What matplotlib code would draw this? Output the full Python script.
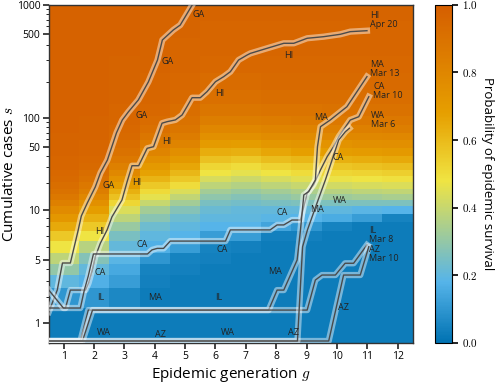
import matplotlib
matplotlib.use("Agg")
import matplotlib.pyplot as plt
import matplotlib.patheffects as pe
import numpy as np
from matplotlib.colors import LinearSegmentedColormap
from matplotlib.ticker import FixedLocator, NullFormatter

plt.rcParams["font.family"] = ["Open Sans", "DejaVu Sans"]
plt.rcParams["mathtext.fontset"] = "cm"

# ---- heatmap data: survival probability per generation column ----
GENERATIONS = [1, 2, 3, 4, 5, 6, 7, 8, 9, 10, 11, 12]
G_EDGES = [0.5, 1.5, 2.5, 3.5, 4.5, 5.5, 6.5, 7.5, 8.5, 9.5, 10.5, 11.5, 12.5]
S_EDGES = [-0.1, 1.5, 2.5, 3.5, 4.5, 5.5, 6.5, 7.5, 8.5, 9.5, 11, 13, 15, 17.3,
           20.3, 24, 28, 33, 40, 48, 58, 70, 84, 103, 130, 170, 235, 325, 460,
           670, 1000]

P_G1 = [0.03, 0.10, 0.20, 0.30, 0.38, 0.48, 0.56, 0.65, 0.72, 0.78, 0.83, 0.87,
        0.90, 0.92, 0.94, 0.95, 0.96, 0.96, 0.97, 0.97, 0.97, 0.98, 0.98, 0.98,
        0.98, 0.98, 0.98, 0.98, 0.98, 0.98]
P_G2 = [0.03, 0.10, 0.17, 0.21, 0.27, 0.37, 0.48, 0.56, 0.63, 0.69, 0.75, 0.80,
        0.84, 0.87, 0.90, 0.92, 0.94, 0.95, 0.96, 0.96, 0.97, 0.97, 0.97, 0.98,
        0.98, 0.98, 0.98, 0.98, 0.98, 0.98]
P_G3 = [0.03, 0.06, 0.12, 0.15, 0.19, 0.21, 0.25, 0.31, 0.38, 0.44, 0.52, 0.58,
        0.63, 0.69, 0.74, 0.79, 0.83, 0.87, 0.90, 0.92, 0.94, 0.95, 0.96, 0.96,
        0.97, 0.97, 0.97, 0.98, 0.98, 0.98]
P_G4 = [0.03, 0.03, 0.04, 0.05, 0.10, 0.17, 0.20, 0.23, 0.28, 0.33, 0.40, 0.46,
        0.51, 0.56, 0.62, 0.67, 0.71, 0.76, 0.81, 0.85, 0.88, 0.91, 0.93, 0.95,
        0.96, 0.96, 0.97, 0.97, 0.97, 0.97]
P_G5 = [0.03, 0.03, 0.03, 0.04, 0.05, 0.12, 0.18, 0.20, 0.23, 0.27, 0.33, 0.39,
        0.44, 0.50, 0.56, 0.61, 0.66, 0.71, 0.76, 0.81, 0.85, 0.88, 0.90, 0.92,
        0.94, 0.95, 0.96, 0.96, 0.97, 0.97]
P_G6 = [0.03, 0.03, 0.03, 0.03, 0.04, 0.05, 0.12, 0.18, 0.20, 0.22, 0.25, 0.29,
        0.33, 0.38, 0.43, 0.48, 0.52, 0.58, 0.64, 0.70, 0.75, 0.80, 0.84, 0.88,
        0.91, 0.93, 0.95, 0.96, 0.96, 0.97]
P_G7 = [0.03, 0.03, 0.03, 0.03, 0.03, 0.04, 0.12, 0.18, 0.20, 0.21, 0.24, 0.27,
        0.31, 0.36, 0.41, 0.46, 0.50, 0.56, 0.63, 0.69, 0.75, 0.80, 0.84, 0.88,
        0.91, 0.93, 0.95, 0.96, 0.96, 0.97]
P_G8 = [0.03, 0.03, 0.03, 0.03, 0.03, 0.03, 0.04, 0.14, 0.19, 0.21, 0.25, 0.29,
        0.33, 0.38, 0.43, 0.48, 0.53, 0.59, 0.66, 0.72, 0.77, 0.81, 0.85, 0.89,
        0.92, 0.94, 0.95, 0.96, 0.96, 0.97]
P_G9 = [0.03, 0.03, 0.03, 0.03, 0.03, 0.03, 0.04, 0.10, 0.18, 0.21, 0.26, 0.31,
        0.35, 0.40, 0.45, 0.50, 0.55, 0.61, 0.68, 0.73, 0.78, 0.82, 0.86, 0.89,
        0.92, 0.94, 0.95, 0.96, 0.96, 0.97]
P_G10 = [0.03, 0.03, 0.03, 0.03, 0.03, 0.03, 0.03, 0.05, 0.16, 0.20, 0.26, 0.32,
         0.37, 0.42, 0.47, 0.52, 0.57, 0.63, 0.69, 0.74, 0.79, 0.83, 0.87, 0.90,
         0.92, 0.94, 0.95, 0.96, 0.96, 0.97]
P_G11 = [0.03, 0.03, 0.03, 0.03, 0.03, 0.03, 0.03, 0.03, 0.12, 0.19, 0.26, 0.33,
         0.38, 0.43, 0.48, 0.53, 0.58, 0.64, 0.70, 0.75, 0.79, 0.83, 0.87, 0.90,
         0.92, 0.94, 0.95, 0.96, 0.96, 0.97]
P_G12 = [0.03, 0.03, 0.03, 0.03, 0.03, 0.03, 0.03, 0.03, 0.05, 0.18, 0.26, 0.34,
         0.39, 0.44, 0.49, 0.54, 0.59, 0.65, 0.71, 0.76, 0.80, 0.84, 0.87, 0.90,
         0.92, 0.94, 0.95, 0.96, 0.96, 0.97]
COLUMNS = [P_G1, P_G2, P_G3, P_G4, P_G5, P_G6, P_G7, P_G8, P_G9, P_G10, P_G11, P_G12]

# ---- state trajectories (generation g, cumulative cases s) ----
GA_G = [0.51, 0.79, 0.96, 1.22, 1.48, 1.58, 1.78, 2.04, 2.21, 2.44, 2.74, 2.93,
        3.13, 3.46, 3.79, 4.09, 4.25, 4.61, 4.84, 5.24, 5.35]
GA_S = [1.36, 2.4, 4.65, 4.65, 7.6, 9.2, 12.0, 18.0, 25.7, 35.7, 69.7, 94.6,
        111.7, 140.6, 198.6, 302, 443, 546, 615, 1000, 1150]

HI_G = [0.51, 1.06, 1.22, 1.72, 1.82, 1.94, 2.04, 2.21, 2.43, 2.59, 2.92, 3.09,
        3.25, 3.47, 3.75, 3.96, 4.24, 4.41, 4.68, 4.90, 5.06, 5.23, 5.50, 5.72,
        6.00, 6.27, 6.49, 6.76, 7.04, 7.15, 7.70, 8.25, 8.58, 9.02, 9.56, 10.11,
        10.44, 10.99]
HI_S = [1.51, 1.51, 2.39, 2.39, 2.85, 3.92, 5.23, 6.33, 7.6, 9.1, 12.9, 20.6,
        30.9, 30.9, 48.0, 50.0, 87.7, 91.0, 94.8, 105.3, 123.4, 146.7, 146.7,
        164.6, 199.3, 219.6, 241.4, 302, 332, 343, 378, 416, 416, 458, 472, 494,
        525, 537]

CA_G = [0.51, 0.99, 1.55, 1.68, 1.81, 1.98, 3.76, 3.91, 4.08, 4.29, 4.51, 6.33,
        6.49, 7.80, 8.03, 8.25, 8.52, 8.80, 9.02, 9.23, 9.46, 9.68, 9.89, 10.06,
        10.44, 10.72, 11.05]
CA_S = [2.39, 1.51, 1.51, 2.39, 3.39, 5.44, 5.44, 5.76, 5.88, 5.88, 6.51, 6.51,
        7.6, 7.6, 8.14, 8.14, 8.71, 8.71, 15.4, 19.0, 27.8, 38.9, 50.0, 63.5,
        94.6, 101.9, 149.4]

MA_G = [0.51, 1.55, 1.81, 7.75, 8.03, 8.25, 8.69, 8.80, 8.91, 9.07, 9.29, 9.36,
        9.46, 9.78, 10.33, 10.99]
MA_S = [0, 0, 1.43, 1.43, 2.39, 2.39, 5.0, 7.6, 14.7, 16.0, 21.5, 50.0, 80.7,
        94.6, 123.4, 219.6]

IL_G = [0.51, 1.62, 1.95, 9.02, 9.29, 9.51, 9.95, 10.27, 10.55, 10.99]
IL_S = [0, 0, 1.43, 1.43, 3.07, 3.47, 3.47, 4.62, 4.62, 6.17]

AZ_G = [0.51, 9.73, 10.22, 10.77, 11.05]
AZ_S = [0, 0, 3.47, 3.47, 6.02]

WA_G = [0.51, 8.70, 8.87, 9.03, 9.38, 9.62, 10.06, 10.28, 10.41]
WA_S = [0, 0, 6.02, 7.6, 12.9, 21.5, 58.7, 71.6, 77.6]

TRAJECTORIES = [(GA_G, GA_S), (HI_G, HI_S), (CA_G, CA_S), (MA_G, MA_S),
                (IL_G, IL_S), (AZ_G, AZ_S), (WA_G, WA_S)]

# labels along trajectories: (text, g, s)
INLINE_LABELS = [
    ("GA", 5.44, 800), ("GA", 4.42, 291), ("GA", 3.56, 105), ("GA", 2.47, 18.5),
    ("HI", 6.13, 160), ("HI", 8.40, 332), ("HI", 4.38, 56), ("HI", 3.39, 20),
    ("HI", 2.18, 7.4),
    ("CA", 2.21, 3.65), ("CA", 3.59, 6.25), ("CA", 6.23, 5.76), ("CA", 8.20, 9.6),
    ("CA", 10.04, 38.5),
    ("MA", 4.02, 1.96), ("MA", 7.97, 3.74), ("MA", 9.36, 10.0), ("MA", 9.49, 101),
    ("IL", 2.21, 1.96), ("IL", 6.10, 1.96),
    ("WA", 2.31, 0.25), ("WA", 6.42, 0.25), ("WA", 10.10, 12.9),
    ("AZ", 4.19, 0.2), ("AZ", 8.56, 0.25), ("AZ", 10.21, 1.55),
]
END_LABELS = [
    ("HI\nApr 20", 11.1, 693), ("MA\nMar 13", 11.1, 255),
    ("CA\nMar 10", 11.2, 167), ("WA\nMar 6", 11.13, 94.6),
    ("IL\nMar 8", 11.05, 7.1), ("AZ\nMar 10", 11.05, 5.4),
]

Y_TICKS = [1, 5, 10, 50, 100, 500, 1000]
Y_MINOR = [2, 3, 4, 6, 7, 8, 9, 20, 30, 40, 60, 70, 80, 90, 200, 300, 400,
           600, 700, 800, 900]

# custom vertical scale (stretched log), knots in log10(s + 0.2)
S_KNOTS = np.array([-0.1, 0, 1, 5, 10, 50, 100, 500, 1000])
U_KNOTS = np.log10(S_KNOTS + 0.2)
P_KNOTS = np.array([0, 2, 19.7, 83, 133, 196.3, 225.3, 309.3, 338.3])
U_EXT = np.concatenate([[-3.0], U_KNOTS, [5.0]])
P_EXT = np.concatenate([[-10.0], P_KNOTS, [338.3 + 2 * 96.3]])


def forward(s):
    s = np.asarray(s, dtype=float)
    u = np.log10(np.clip(s + 0.2, 1e-3, None))
    return np.interp(u, U_EXT, P_EXT)


def inverse(p):
    p = np.asarray(p, dtype=float)
    return 10 ** np.interp(p, P_EXT, U_EXT) - 0.2


cmap = LinearSegmentedColormap.from_list(
    "survival",
    [(0.0, "#0072B2"), (0.18, "#56B4E9"), (0.48, "#F0E442"),
     (0.68, "#E69F00"), (1.0, "#D55E00")])

fig = plt.figure(figsize=(5.0, 3.87), dpi=100)
ax = fig.add_axes([0.097, 0.1137, 0.7286, 0.8742])
cax = fig.add_axes([0.870, 0.1137, 0.034, 0.8742])

ax.set_yscale("function", functions=(forward, inverse))
Z = np.column_stack(COLUMNS)
mesh = ax.pcolormesh(G_EDGES, S_EDGES, Z, cmap=cmap, vmin=0, vmax=1,
                     shading="flat", rasterized=True)

halo = [pe.Stroke(linewidth=4.5, foreground=(1, 1, 1, 0.45)), pe.Normal()]
for g, s in TRAJECTORIES:
    ax.plot(g, s, color="#4a4a4a", lw=1.0, path_effects=halo,
            solid_joinstyle="round", zorder=3)

for txt, g, s in INLINE_LABELS:
    ax.text(g, s, txt, fontsize=6.5, color="#222222", ha="center",
            va="center", zorder=4)
for txt, g, s in END_LABELS:
    ax.text(g, s, txt, fontsize=6.5, color="#222222", ha="left",
            va="center", linespacing=1.0, zorder=4)

ax.set_xlim(0.5, 12.5)
ax.set_ylim(-0.1, 1000)
ax.set_xticks(GENERATIONS)
ax.yaxis.set_major_locator(FixedLocator(Y_TICKS))
ax.set_yticklabels([str(v) for v in Y_TICKS])
ax.yaxis.set_minor_locator(FixedLocator(Y_MINOR))
ax.yaxis.set_minor_formatter(NullFormatter())
ax.tick_params(axis="both", which="major", labelsize=7.5, length=4, width=1.2,
               color="#222222", pad=2)
ax.tick_params(axis="y", which="minor", length=2, width=0.6)
ax.set_xlabel("Epidemic generation $g$", fontsize=11, labelpad=2)
ax.set_ylabel("Cumulative cases $s$", fontsize=11, labelpad=0)
for sp in ax.spines.values():
    sp.set_linewidth(1.0)
    sp.set_color("#333333")

cb = fig.colorbar(mesh, cax=cax)
cb.set_ticks([0.0, 0.2, 0.4, 0.6, 0.8, 1.0])
cb.set_ticklabels(["$0.0$", "$0.2$", "$0.4$", "$0.6$", "$0.8$", "$1.0$"])
cb.ax.tick_params(labelsize=8, length=4, width=1.2)
cb.outline.set_linewidth(0.8)
cb.set_label("Probability of epidemic survival", rotation=270, fontsize=9.5,
             labelpad=11)

fig.savefig("out.png", dpi=100)
